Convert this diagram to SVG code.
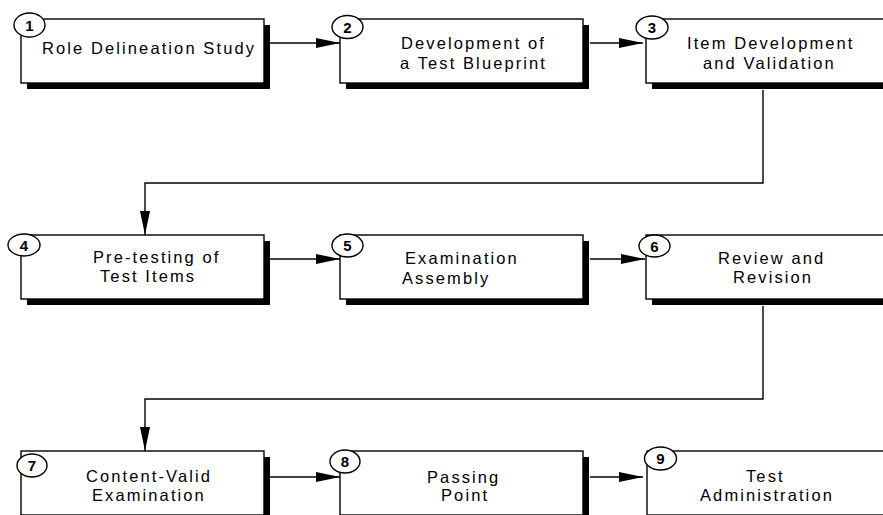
<svg xmlns="http://www.w3.org/2000/svg" width="883" height="515" viewBox="0 0 883 515">
<defs>
<style>
.shadow{fill:#000}
.box{fill:#fff;stroke:#000;stroke-width:1.4}
.num{fill:#fff;stroke:#000;stroke-width:1.4}
.numt{font-family:"Liberation Sans",Arial,sans-serif;font-weight:bold;font-size:15px;fill:#000;text-anchor:middle}
.lbl{font-family:"Liberation Sans",Arial,sans-serif;font-size:16.5px;letter-spacing:2.1px;fill:#000}
.conn{fill:none;stroke:#000;stroke-width:1.4}
</style>
<marker id="arr" markerUnits="userSpaceOnUse" markerWidth="24" markerHeight="10" refX="24" refY="5" orient="auto">
<path d="M0,0 L24,5 L0,10 z" fill="#000"/>
</marker>
</defs>
<rect width="883" height="515" fill="#fff"/>
<g id="connectors">
<line class="conn" x1="270" y1="43" x2="340" y2="43" marker-end="url(#arr)"/>
<line class="conn" x1="590" y1="43" x2="643" y2="43" marker-end="url(#arr)"/>
<polyline class="conn" points="763,90 763,183 145,183 145,235" marker-end="url(#arr)"/>
<line class="conn" x1="270" y1="259" x2="340" y2="259" marker-end="url(#arr)"/>
<line class="conn" x1="590" y1="259" x2="645" y2="259" marker-end="url(#arr)"/>
<polyline class="conn" points="763,306 763,399 145,399 145,451" marker-end="url(#arr)"/>
<line class="conn" x1="270" y1="477" x2="340" y2="477" marker-end="url(#arr)"/>
<line class="conn" x1="590" y1="477" x2="643" y2="477" marker-end="url(#arr)"/>
</g>
<g id="node1">
<rect class="shadow" x="27" y="25" width="243" height="64"/>
<rect class="box" x="21" y="19" width="243" height="64"/>
<ellipse class="num" cx="29.5" cy="25" rx="15.5" ry="12"/>
<text class="numt" x="29.5" y="30.5">1</text>
<text class="lbl" x="42" y="54">Role Delineation Study</text>
</g>
<g id="node2">
<rect class="shadow" x="346" y="25" width="243" height="64"/>
<rect class="box" x="340" y="19" width="243" height="64"/>
<ellipse class="num" cx="347.5" cy="27" rx="15.5" ry="11.5"/>
<text class="numt" x="347.5" y="32.5">2</text>
<text class="lbl" x="401" y="49">Development of</text>
<text class="lbl" x="400" y="69">a Test Blueprint</text>
</g>
<g id="node3">
<rect class="shadow" x="652" y="25" width="243" height="64"/>
<rect class="box" x="646" y="19" width="243" height="64"/>
<ellipse class="num" cx="652" cy="27.5" rx="16" ry="11.5"/>
<text class="numt" x="652" y="33">3</text>
<text class="lbl" x="687" y="49">Item Development</text>
<text class="lbl" x="703" y="69">and Validation</text>
</g>
<g id="node4">
<rect class="shadow" x="27" y="241" width="243" height="64"/>
<rect class="box" x="21" y="235" width="243" height="64"/>
<ellipse class="num" cx="24" cy="245" rx="16" ry="11"/>
<text class="numt" x="24" y="250.5">4</text>
<text class="lbl" x="93" y="263">Pre-testing of</text>
<text class="lbl" x="100" y="282">Test Items</text>
</g>
<g id="node5">
<rect class="shadow" x="346" y="241" width="243" height="64"/>
<rect class="box" x="340" y="235" width="243" height="64"/>
<ellipse class="num" cx="347.5" cy="245.5" rx="15.5" ry="11.5"/>
<text class="numt" x="347.5" y="251">5</text>
<text class="lbl" x="405" y="264">Examination</text>
<text class="lbl" x="402" y="284">Assembly</text>
</g>
<g id="node6">
<rect class="shadow" x="652" y="241" width="243" height="64"/>
<rect class="box" x="646" y="235" width="243" height="64"/>
<ellipse class="num" cx="654.5" cy="246" rx="15.5" ry="11"/>
<text class="numt" x="654.5" y="251.5">6</text>
<text class="lbl" x="718" y="264">Review and</text>
<text class="lbl" x="733" y="283">Revision</text>
</g>
<g id="node7">
<rect class="shadow" x="27" y="457" width="243" height="64"/>
<rect class="box" x="21" y="451" width="243" height="64"/>
<ellipse class="num" cx="32" cy="465.5" rx="15" ry="11.5"/>
<text class="numt" x="32" y="471">7</text>
<text class="lbl" x="86" y="482">Content-Valid</text>
<text class="lbl" x="92" y="501">Examination</text>
</g>
<g id="node8">
<rect class="shadow" x="346" y="457" width="243" height="64"/>
<rect class="box" x="340" y="451" width="243" height="64"/>
<ellipse class="num" cx="345" cy="461.5" rx="15" ry="11.5"/>
<text class="numt" x="345" y="467">8</text>
<text class="lbl" x="427" y="483">Passing</text>
<text class="lbl" x="441" y="501">Point</text>
</g>
<g id="node9">
<rect class="shadow" x="653" y="457" width="243" height="64"/>
<rect class="box" x="647" y="451" width="243" height="64"/>
<ellipse class="num" cx="660.5" cy="458.5" rx="16" ry="11.5"/>
<text class="numt" x="660.5" y="464">9</text>
<text class="lbl" x="746" y="482">Test</text>
<text class="lbl" x="700" y="501">Administration</text>
</g>
</svg>
